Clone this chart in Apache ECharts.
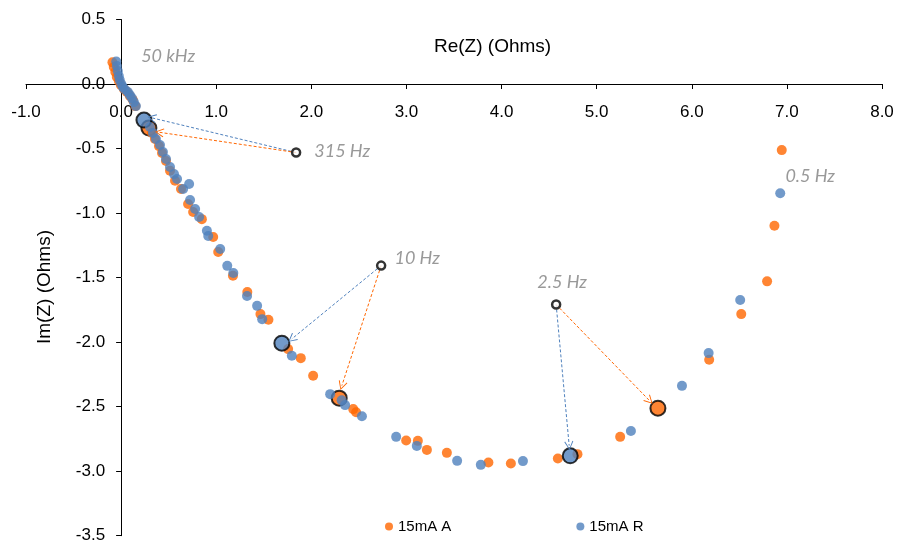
<!DOCTYPE html>
<html><head><meta charset="utf-8">
<script src="https://cdn.jsdelivr.net/npm/echarts@6/dist/echarts.min.js"></script>
<style>html,body{margin:0;padding:0;background:#fff}#c{width:897px;height:547px}</style>
</head><body><div id="c"></div>
<script>
const seriesNames = ['15mA A', '15mA R'];
const aRe = [-0.091,-0.077,-0.061,-0.045,-0.024,-0.003,0.029,0.060,0.092,0.124,0.150,0.292,0.324,0.356,0.398,0.430,0.472,0.514,0.567,0.630,0.704,0.757,0.849,0.968,1.021,1.176,1.327,1.465,1.549,1.756,1.889,2.019,2.293,2.440,2.471,2.997,3.120,3.215,3.425,3.862,4.098,4.592,4.798,5.247,5.644,6.183,6.520,6.792,6.869,6.946];
const aIm = [0.168,0.132,0.093,0.054,0.023,-0.008,-0.039,-0.062,-0.093,-0.124,-0.171,-0.341,-0.380,-0.426,-0.481,-0.535,-0.597,-0.672,-0.750,-0.814,-0.930,-0.992,-1.047,-1.186,-1.302,-1.486,-1.612,-1.783,-1.827,-2.054,-2.124,-2.261,-2.434,-2.519,-2.543,-2.762,-2.765,-2.835,-2.858,-2.933,-2.940,-2.902,-2.868,-2.734,-2.512,-2.137,-1.783,-1.529,-1.098,-0.512];
const aHighlight = [11, 32, 44];
const rRe = [-0.051,-0.045,-0.035,-0.024,-0.014,0.002,0.018,0.039,0.071,0.092,0.113,0.134,0.155,0.240,0.303,0.335,0.366,0.409,0.440,0.472,0.514,0.556,0.588,0.652,0.715,0.725,0.778,0.820,0.902,0.916,1.042,1.116,1.180,1.324,1.430,1.483,1.690,1.795,2.198,2.319,2.355,2.532,2.892,3.109,3.533,3.782,4.225,4.722,5.360,5.897,6.177,6.509,6.930];
const rIm = [0.174,0.140,0.101,0.062,0.031,0.000,-0.023,-0.043,-0.062,-0.085,-0.109,-0.140,-0.171,-0.279,-0.333,-0.380,-0.426,-0.473,-0.527,-0.581,-0.643,-0.698,-0.736,-0.814,-0.775,-0.899,-0.969,-1.031,-1.137,-1.178,-1.279,-1.409,-1.465,-1.643,-1.719,-1.822,-2.008,-2.106,-2.403,-2.450,-2.488,-2.574,-2.734,-2.804,-2.920,-2.951,-2.922,-2.881,-2.688,-2.339,-2.085,-1.674,-0.847];
const rHighlight = [13, 36, 47];

const freqLabels = ['50 kHz', '315 Hz', '10 Hz', '2.5 Hz', '0.5 Hz'];
const labelRe = [0.494, 2.324, 3.113, 4.637, 7.245];
const labelIm = [0.213, -0.523, -1.353, -1.539, -0.717];

const anchorRe = [1.840, 2.734, 4.574];
const anchorIm = [-0.531, -1.407, -1.709];
const aArrowRe = [0.403, 2.321, 5.555];
const aArrowIm = [-0.374, -2.337, -2.453];
const rArrowRe = [0.323, 1.795, 4.711];
const rArrowIm = [-0.262, -1.975, -2.802];

const xTicks = { min: -1, max: 8, interval: 1 };
const yTicks = { min: -3.5, max: 0.5, interval: 0.5 };

const W = 897, H = 547;
const GRID = { left: 26, right: 15, top: 19.5, bottom: 11.3 };
const plotW = W - GRID.left - GRID.right;
const plotH = H - GRID.top - GRID.bottom;
// move the axes so they cross at (0, 0), as in the reference
const xAxisOffset = -plotH * (0 - yTicks.min) / (yTicks.max - yTicks.min);
const yAxisOffset = -plotW * (0 - xTicks.min) / (xTicks.max - xTicks.min);

const ORANGE = '#FF6600', BLUE = '#4F81BD';
const chevron = 'path://M5,0 L10,9.3 L9.1,10 L5,1.9 L0.9,10 L0,9.3 Z';

function buildData(re, im, hl) {
  return re.map((x, i) => hl.indexOf(i) >= 0
    ? { value: [x, im[i]], symbolSize: 15, itemStyle: { borderColor: '#000', borderWidth: 2 } }
    : { value: [x, im[i]] });
}
function arrows(tRe, tIm, color) {
  return anchorRe.map((x, i) => [
    { coord: [x, anchorIm[i]], lineStyle: { color: color, type: [3, 2], width: 1 } },
    { coord: [tRe[i], tIm[i]] }
  ]);
}

const chart = echarts.init(document.getElementById('c'), null, { renderer: 'canvas' });
chart.setOption({
  animation: false,
  backgroundColor: '#fff',
  grid: Object.assign({ containLabel: false, outerBoundsMode: 'none' }, GRID),
  legend: {
    data: seriesNames, left: 380, top: 514, itemWidth: 8, itemHeight: 8, itemGap: 125,
    textStyle: { fontFamily: 'Liberation Sans', fontSize: 15, color: '#000' }
  },
  xAxis: {
    type: 'value', position: 'bottom', offset: xAxisOffset,
    min: xTicks.min, max: xTicks.max, interval: xTicks.interval,
    axisLine: { onZero: false, lineStyle: { color: '#000', width: 1 } },
    axisTick: { show: true, inside: false, length: 5, lineStyle: { color: '#000' } },
    axisLabel: { margin: 20, fontFamily: 'Liberation Sans', fontSize: 17, color: '#000', formatter: v => v.toFixed(1) },
    splitLine: { show: false }
  },
  yAxis: {
    type: 'value', position: 'left', offset: yAxisOffset,
    min: yTicks.min, max: yTicks.max, interval: yTicks.interval,
    axisLine: { onZero: false, lineStyle: { color: '#000', width: 1 } },
    axisTick: { show: true, inside: false, length: 5, lineStyle: { color: '#000' } },
    axisLabel: { margin: 16, fontFamily: 'Liberation Sans', fontSize: 17, color: '#000', formatter: v => v.toFixed(1) },
    splitLine: { show: false }
  },
  graphic: [
    { type: 'text', left: 434, top: 37, style: { text: 'Re(Z) (Ohms)', font: '19px "Liberation Sans"', fill: '#000' } },
    { type: 'text', x: 35, y: 344, rotation: Math.PI / 2, style: { text: 'Im(Z) (Ohms)', font: '19px "Liberation Sans"', fill: '#000' } }
  ],
  series: [
    { name: seriesNames[0], type: 'scatter', symbol: 'circle', symbolSize: 10, z: 2,
      itemStyle: { color: ORANGE }, data: buildData(aRe, aIm, aHighlight) },
    { name: seriesNames[1], type: 'scatter', symbol: 'circle', symbolSize: 10, z: 3,
      itemStyle: { color: BLUE }, data: buildData(rRe, rIm, rHighlight) },
    { name: 'anchors', type: 'scatter', symbol: 'circle', symbolSize: 8, z: 5,
      itemStyle: { color: '#fff', borderColor: '#000', borderWidth: 2.5 },
      data: anchorRe.map((x, i) => [x, anchorIm[i]]),
      markLine: {
        silent: true, symbol: ['none', chevron], symbolSize: [9, 9],
        label: { show: false }, z: 4,
        data: arrows(rArrowRe, rArrowIm, BLUE).concat(arrows(aArrowRe, aArrowIm, ORANGE))
      }
    },
    { name: 'freq', type: 'scatter', symbol: 'circle', symbolSize: 1, z: 6,
      itemStyle: { color: 'rgba(0,0,0,0)' },
      label: { show: true, position: 'inside', formatter: p => p.name,
        fontFamily: 'Lato', fontStyle: 'italic', fontSize: 18, color: '#808080' },
      data: freqLabels.map((t, i) => ({ name: t, value: [labelRe[i], labelIm[i]] }))
    }
  ]
});
</script></body></html>
